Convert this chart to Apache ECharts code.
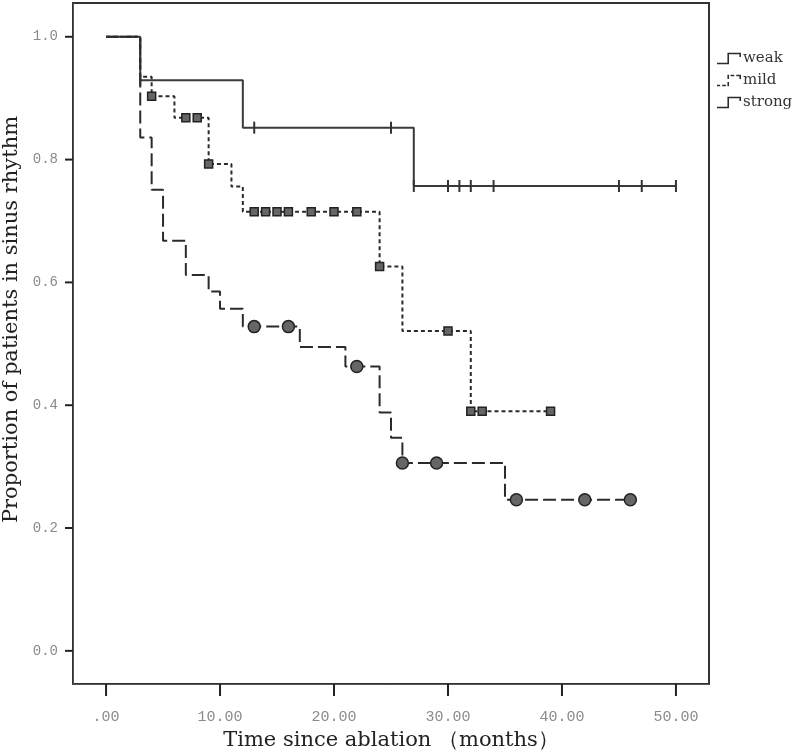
<!DOCTYPE html>
<html>
<head>
<meta charset="utf-8">
<script src="https://cdn.jsdelivr.net/npm/echarts@6/dist/echarts.min.js"></script>
<style>
html, body { margin: 0; padding: 0; background: #fff; }
#chart { width: 800px; height: 754px; }
</style>
</head>
<body>
<div id="chart"></div>
<script>
// Kaplan-Meier steps: time (months) where the value starts, proportion after that time
const weakTimes = [0, 3, 12, 27, 50];
const weakSurv = [1.0, 0.929, 0.852, 0.757, 0.757];
const weakCensored = [3, 13, 25, 27, 30, 31, 32, 34, 45, 47, 50];

const mildTimes = [0, 3, 4, 6, 9, 11, 12, 24, 26, 32, 39];
const mildSurv = [1.0, 0.935, 0.903, 0.868, 0.793, 0.756, 0.715, 0.626, 0.521, 0.39, 0.39];
const mildCensored = [4, 7, 8, 9, 13, 14, 15, 16, 18, 20, 22, 24, 30, 32, 33, 39];

const strongTimes = [0, 3, 4, 5, 7, 9, 10, 12, 17, 21, 24, 25, 26, 35, 46];
const strongSurv = [1.0, 0.836, 0.751, 0.668, 0.612, 0.585, 0.557, 0.528, 0.495, 0.463, 0.388, 0.347, 0.306, 0.246, 0.246];
const strongCensored = [13, 16, 22, 26, 29, 36, 42, 46];

const xTicks = [0, 10, 20, 30, 40, 50];
const xTickLabels = ['.00', '10.00', '20.00', '30.00', '40.00', '50.00'];
const yTicks = [0, 0.2, 0.4, 0.6, 0.8, 1.0];
const yTickLabels = ['0.0', '0.2', '0.4', '0.6', '0.8', '1.0'];

const xMin = -2.9, xMax = 52.9;
const yMin = -0.054, yMax = 1.055;

function steps(times, surv) {
    return times.map((t, i) => [t, surv[i]]);
}
// value of the curve at a censored time
function marks(times, surv, cens) {
    return cens.map(c => {
        let v = surv[0];
        for (let i = 0; i < times.length; i++) {
            if (times[i] <= c) v = surv[i];
        }
        return [c, v];
    });
}

const ink = '#2b2b2b';
const serif = 'DejaVu Serif';
const mono = 'Liberation Mono';

const chart = echarts.init(document.getElementById('chart'));

const stepIcon = 'path://M0,10.5H10V1H23V5H21.5V2.5H11.5V12H0Z';
const dashIcon = 'path://M0,10.5H3V12H0Z M5,10.5H8.5V12H5Z M10,8H11.5V12H10Z M10,1H11.5V5H10Z M13,1H16.5V2.5H13Z M18.5,1H23V5H21.5V2.5H18.5Z';

const option = {
    animation: false,
    grid: {
        left: 73, right: 91, top: 3, bottom: 70,
        outerBoundsMode: 'none',
        show: true, borderColor: '#333', borderWidth: 2
    },
    legend: {
        data: [
            { name: 'weak', icon: stepIcon },
            { name: 'mild', icon: dashIcon },
            { name: 'strong', icon: stepIcon }
        ],
        orient: 'vertical',
        left: 712,
        top: 46,
        itemWidth: 24,
        itemHeight: 12,
        itemGap: 7,
        itemStyle: { color: ink, borderWidth: 0 },
        textStyle: { fontFamily: serif, fontSize: 15, color: '#333', padding: [0, 0, 0, -3] }
    },
    xAxis: {
        type: 'value', min: xMin, max: xMax,
        name: 'Time since ablation （months）',
        nameLocation: 'middle',
        nameGap: 45,
        nameTextStyle: { fontFamily: serif, fontSize: 21, color: '#222' },
        axisLine: { show: true, onZero: false },
        splitLine: { show: false },
        axisTick: { show: false },
        axisLabel: {
            customValues: xTicks,
            margin: 26,
            fontFamily: mono, fontSize: 15, color: '#8a8a8a',
            formatter: v => xTickLabels[xTicks.indexOf(v)]
        }
    },
    yAxis: {
        type: 'value', min: yMin, max: yMax,
        name: 'Proportion of patients in sinus rhythm',
        nameLocation: 'middle',
        nameGap: 44,
        nameTextStyle: { fontFamily: serif, fontSize: 21, color: '#222', padding: [0, 0, 0, 48] },
        axisLine: { show: true, onZero: false },
        splitLine: { show: false },
        axisTick: { show: false },
        axisLabel: {
            customValues: yTicks,
            margin: 15,
            fontFamily: mono, fontSize: 14, color: '#8a8a8a',
            formatter: v => yTickLabels[yTicks.findIndex(t => Math.abs(t - v) < 1e-6)]
        }
    },
    series: [
        {
            name: 'weak', type: 'line', step: 'end', symbol: 'none',
            data: steps(weakTimes, weakSurv),
            lineStyle: { color: '#3a3a3a', width: 2 },
            itemStyle: { color: ink }
        },
        {
            name: 'mild', type: 'line', step: 'end', symbol: 'none',
            data: steps(mildTimes, mildSurv),
            lineStyle: { color: ink, width: 2, type: [4, 3] },
            itemStyle: { color: ink }
        },
        {
            name: 'strong', type: 'line', step: 'end', symbol: 'none',
            data: steps(strongTimes, strongSurv),
            lineStyle: { color: ink, width: 2, type: [13, 5] },
            itemStyle: { color: ink }
        },
        {
            name: 'weak censored', type: 'scatter', symbol: 'rect', symbolSize: [2, 12],
            data: marks(weakTimes, weakSurv, weakCensored),
            itemStyle: { color: '#333', opacity: 1 }, z: 3
        },
        {
            name: 'mild censored', type: 'scatter', symbol: 'rect', symbolSize: 8,
            data: marks(mildTimes, mildSurv, mildCensored),
            itemStyle: { color: '#666', borderColor: '#222', borderWidth: 1.5, opacity: 1 }, z: 3
        },
        {
            name: 'strong censored', type: 'scatter', symbol: 'circle', symbolSize: 12,
            data: marks(strongTimes, strongSurv, strongCensored),
            itemStyle: { color: '#666', borderColor: '#222', borderWidth: 1.5, opacity: 1 }, z: 3
        }
    ]
};

chart.setOption(option);

// outward tick marks on the frame, placed through the chart's own scales
const tickEls = [];
xTicks.forEach(t => {
    const p = chart.convertToPixel({ gridIndex: 0 }, [t, yMin]);
    tickEls.push({
        type: 'line', silent: true, z: 10,
        shape: { x1: p[0], y1: p[1], x2: p[0], y2: p[1] + 12 },
        style: { stroke: '#222', lineWidth: 2 }
    });
});
yTicks.forEach(v => {
    const p = chart.convertToPixel({ gridIndex: 0 }, [xMin, v]);
    tickEls.push({
        type: 'line', silent: true, z: 10,
        shape: { x1: p[0] - 8, y1: p[1], x2: p[0], y2: p[1] },
        style: { stroke: '#222', lineWidth: 2 }
    });
});
chart.setOption({ graphic: tickEls });
</script>
</body>
</html>
